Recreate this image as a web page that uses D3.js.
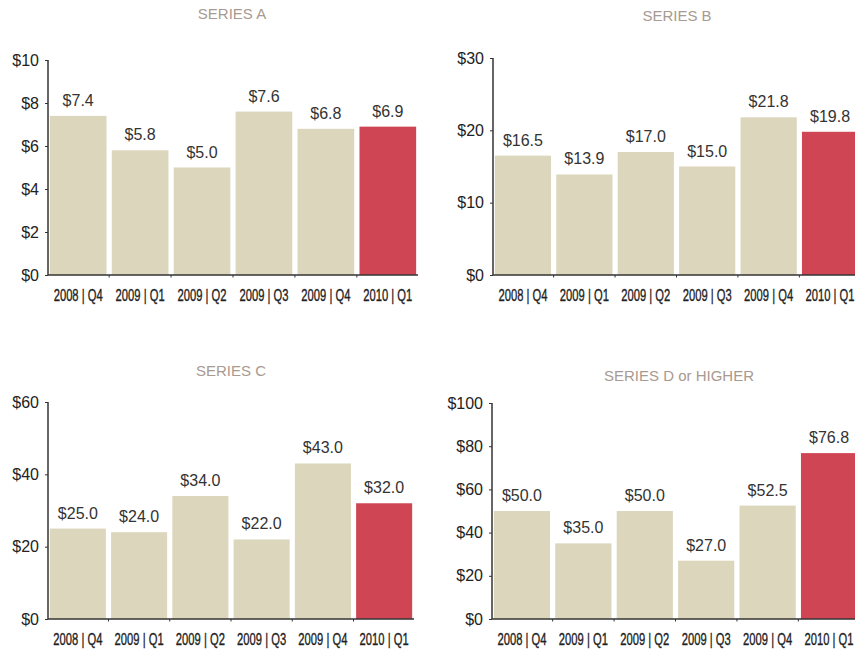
<!DOCTYPE html>
<html><head><meta charset="utf-8">
<script src="https://cdn.jsdelivr.net/npm/d3@7"></script>
<style>
body{margin:0;background:#fff;}
svg{display:block;}
</style></head>
<body>
<svg id="chart" width="855" height="650"></svg>
<script>
const categories = ["2008 | Q4","2009 | Q1","2009 | Q2","2009 | Q3","2009 | Q4","2010 | Q1"];
const seriesTitles = ["SERIES A","SERIES B","SERIES C","SERIES D or HIGHER"];
const seriesA = [7.4, 5.8, 5.0, 7.6, 6.8, 6.9];
const seriesB = [16.5, 13.9, 17.0, 15.0, 21.8, 19.8];
const seriesC = [25.0, 24.0, 34.0, 22.0, 43.0, 32.0];
const seriesD = [50.0, 35.0, 50.0, 27.0, 52.5, 76.8];
const ticksA = [0, 2, 4, 6, 8, 10];
const ticksB = [0, 10, 20, 30];
const ticksC = [0, 20, 40, 60];
const ticksD = [0, 20, 40, 60, 80, 100];

const panels = [
  {title: seriesTitles[0], values: seriesA, ticks: ticksA, x0: 48, x1: 418, yTop: 60, yBot: 275, tx: 232, ty: 19},
  {title: seriesTitles[1], values: seriesB, ticks: ticksB, x0: 493, x1: 860, yTop: 58, yBot: 275, tx: 677, ty: 21},
  {title: seriesTitles[2], values: seriesC, ticks: ticksC, x0: 48, x1: 414, yTop: 402, yBot: 619, tx: 231, ty: 376},
  {title: seriesTitles[3], values: seriesD, ticks: ticksD, x0: 492, x1: 859, yTop: 403, yBot: 619, tx: 679, ty: 381}
];

const svg = d3.select("#chart");
const beige = "#dbd6bc", red = "#cf4553";

panels.forEach(p => {
  const g = svg.append("g");
  const x = d3.scaleBand().domain(categories).range([p.x0, p.x1]).paddingInner(0.085).paddingOuter(0.03);
  const y = d3.scaleLinear().domain([0, d3.max(p.ticks)]).range([p.yBot, p.yTop]);

  g.append("text").attr("x", p.tx).attr("y", p.ty).attr("text-anchor", "middle")
    .attr("font-family", "Liberation Sans, Arial, sans-serif").attr("font-size", 15)
    .attr("fill", "#a89a90").text(p.title);

  g.selectAll("rect.bar").data(p.values).join("rect")
    .attr("x", (d, i) => x(categories[i]))
    .attr("width", x.bandwidth())
    .attr("y", d => y(d))
    .attr("height", d => y(0) - y(d))
    .attr("fill", (d, i) => i === categories.length - 1 ? red : beige);

  g.selectAll("text.val").data(p.values).join("text")
    .attr("x", (d, i) => x(categories[i]) + x.bandwidth() / 2)
    .attr("y", d => y(d) - 10)
    .attr("text-anchor", "middle")
    .attr("font-family", "Liberation Sans, Arial, sans-serif").attr("font-size", 16)
    .attr("fill", "#333").text(d => "$" + d.toFixed(1));

  const yAxis = d3.axisLeft(y).tickValues(p.ticks).tickFormat(d => "$" + d).tickSize(3).tickPadding(6);
  const ya = g.append("g").attr("transform", `translate(${p.x0},0)`).call(yAxis);
  ya.select(".domain").attr("stroke", "#333").attr("stroke-width", 1.5).attr("d", `M0,${p.yTop}V${p.yBot}`);
  ya.selectAll(".tick line").attr("stroke", "#333");
  ya.selectAll(".tick text").attr("font-family", "Liberation Sans, Arial, sans-serif").attr("font-size", 16).attr("fill", "#222");

  const xa = g.append("g").attr("transform", `translate(0,${p.yBot})`)
    .call(d3.axisBottom(x).tickSize(0).tickPadding(0));
  xa.select(".domain").attr("stroke", "#333").attr("stroke-width", 1.5).attr("d", `M${p.x0},0H${p.x1}`);
  xa.selectAll(".tick text")
    .attr("dy", null).attr("y", 26)
    .attr("transform", "scale(0.68,1)")
    .attr("font-family", "Liberation Sans, Arial, sans-serif")
    .attr("font-size", 16.5).attr("fill", "#222")
    .attr("stroke", "#222").attr("stroke-width", 0.35);

  // small separator ticks at band boundaries
  g.selectAll("line.sep").data(categories.slice(1)).join("line")
    .attr("x1", d => x(d) - x.step() * x.paddingInner() / 2)
    .attr("x2", d => x(d) - x.step() * x.paddingInner() / 2)
    .attr("y1", p.yBot).attr("y2", p.yBot + 2.5)
    .attr("stroke", "#333").attr("stroke-width", 1);
});
</script>
</body></html>
